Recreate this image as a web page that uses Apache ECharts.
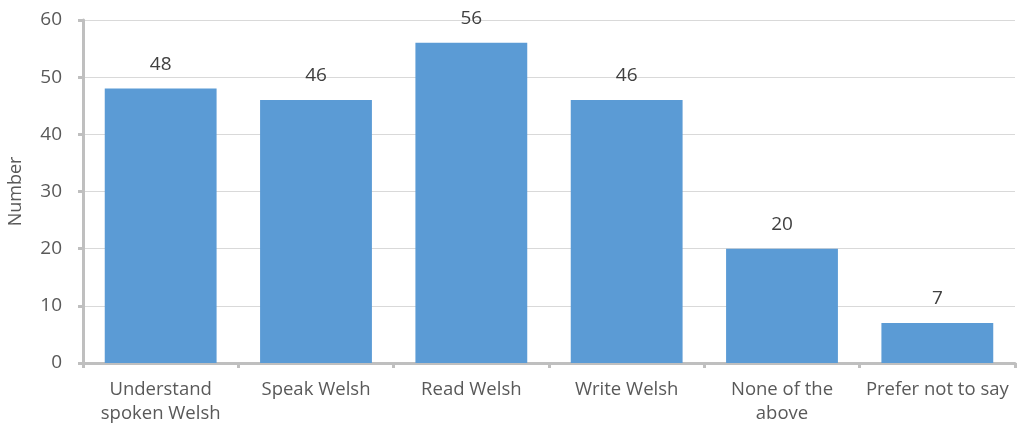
<!DOCTYPE html>
<html><head><meta charset="utf-8">
<script src="https://cdn.jsdelivr.net/npm/echarts@6/dist/echarts.min.js"></script>
<style>html,body{margin:0;padding:0;background:#fff}#c{width:1018px;height:434px}</style>
</head><body><div id="c"></div>
<script>
const categories = ["Understand\nspoken Welsh", "Speak Welsh", "Read Welsh", "Write Welsh", "None of the\nabove", "Prefer not to say"];
const values = [48, 46, 56, 46, 20, 7];
const yTicks = {min: 0, max: 60, interval: 10};
const font = "'Open Sans', 'Liberation Sans', sans-serif";
const chart = echarts.init(document.getElementById('c'));
chart.setOption({
  animation: false,
  grid: {left: 83, right: 3, top: 20, bottom: 71, containLabel: false, outerBoundsMode: 'none'},
  xAxis: {
    type: 'category', data: categories,
    axisLine: {lineStyle: {color: '#bfbfbf', width: 3}},
    axisTick: {show: true, alignWithLabel: false, length: 5, lineStyle: {color: '#bfbfbf', width: 3}},
    axisLabel: {color: '#595959', fontSize: 18.5, fontFamily: font, margin: 15, lineHeight: 24, interval: 0}
  },
  yAxis: {
    type: 'value', min: yTicks.min, max: yTicks.max, interval: yTicks.interval,
    name: 'Number', nameLocation: 'middle', nameGap: 58, nameRotate: 90,
    nameTextStyle: {color: '#595959', fontSize: 18, fontFamily: font},
    axisLine: {show: true, lineStyle: {color: '#bfbfbf', width: 3}},
    axisTick: {show: true, length: 5, lineStyle: {color: '#bfbfbf', width: 3}},
    splitLine: {lineStyle: {color: '#d9d9d9', width: 1}},
    axisLabel: {color: '#595959', fontSize: 19, fontFamily: font, margin: 21}
  },
  series: [{
    type: 'bar', data: values, barCategoryGap: '28%',
    itemStyle: {color: '#5b9bd5'},
    label: {show: true, position: 'top', distance: 15, color: '#404040', fontSize: 19, fontFamily: font}
  }]
});
</script></body></html>
